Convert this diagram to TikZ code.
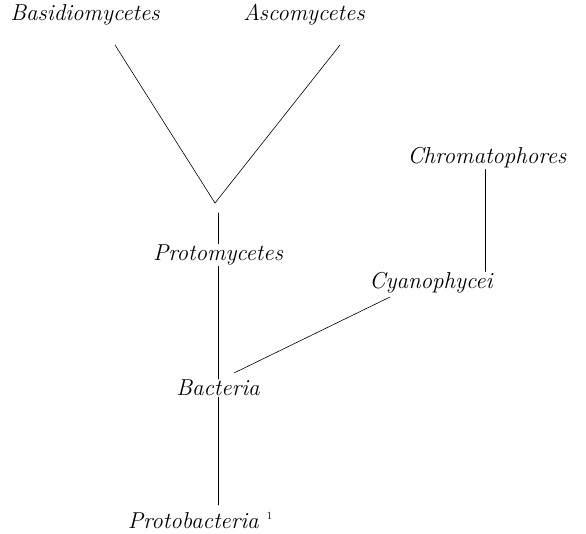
\documentclass[tikz,border=0pt]{standalone}
\usepackage{tikz}
\usetikzlibrary{positioning}

\tikzset{taxon/.style={font=\fontsize{23}{27}\selectfont\itshape, inner sep=1pt},
	tige/.style={line width=0.9pt}}

\begin{document}
\begin{tikzpicture}[line cap=round,line join=round,x=1pt,y=-1pt]
	\useasboundingbox (0,0) rectangle (586,534);
	% Etage haut
	\node[taxon] (basid) at (85,15) {Basidiomycetes};
	\node[taxon] (asco) at (304,15) {Ascomycetes};
	\node[taxon] (chromato) at (487,158) {Chromatophores};
	% Etage milieu
	\node[taxon] (proto) at (218,255) {Protomycetes};
	\node[taxon] (cyano) at (431,283) {Cyanophycei};
	% Etage bas
	\node[taxon] (bact) at (218,388) {Bacteria};
	\node[taxon] (protobact) at (200,520) {Protobacteria\ \raisebox{9pt}{\fontsize{11}{11}\selectfont\upshape 1}};
	% points de raccord
	\coordinate (b1) at (115,45);
	\coordinate (a1) at (340,45);
	\coordinate (fork) at (215,203);
	\coordinate (stem) at (218,213);
	\coordinate (bc) at (234,373);
	\coordinate (cb) at (390,297);
	% branches
	\draw[line width=0.6pt] (b1)--(fork)--(a1);
	\draw[tige] (stem)--(proto.north);
	\draw[tige] (proto.south)--(bact.north);
	\draw[tige] (bact.south)--(218,505);
	\draw[line width=0.6pt] (bc)--(cb);
	\draw[tige] (chromato.south-|485,0)--(cyano.north-|485,0);
\end{tikzpicture}
\end{document}
